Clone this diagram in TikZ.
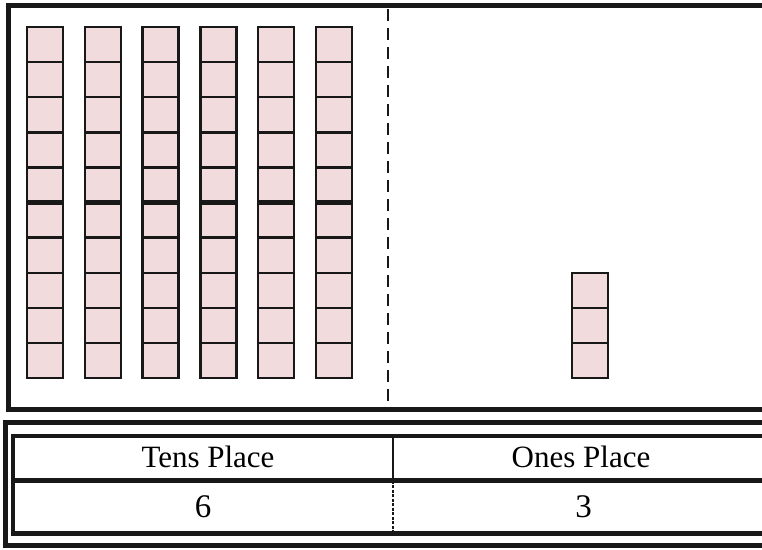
\documentclass[tikz,border=0pt]{standalone}
\usepackage{fontspec}
\setmainfont{Liberation Serif}
\usepackage{tikz}
\definecolor{blockpink}{RGB}{242,219,221}
\definecolor{ink}{RGB}{24,24,24}

\begin{document}
\begin{tikzpicture}[
  x=1pt, y=-1pt, font=\fontsize{31}{36}\selectfont,
  cell/.style={draw=ink, line width=2.4pt, fill=blockpink},
  frame/.style={draw=ink, line width=5pt},
  lbl/.style={anchor=base, inner sep=0pt}
]
\useasboundingbox (0,0) rectangle (762,549);
\clip (0,0) rectangle (762,549);

% tens rods: six columns of ten
\foreach \i in {0,...,5} {
  \foreach \j in {0,...,9}
    \draw[cell] (27+57.8*\i, 27+35.1*\j) rectangle ++(36,35.1);
  \draw[ink, line width=5pt] (27+57.8*\i,202.5) -- ++(36,0);
}

% ones: three single blocks
\foreach \j in {0,1,2}
  \draw[cell] (572, 273+35*\j) rectangle ++(36,35);

% place value mat
\draw[frame, line width=5.5pt] (8.5,5.5) rectangle (800,409.5);
\draw[ink, line width=2pt, dash pattern=on 12pt off 7pt] (388,9) -- (388,407);

% chart below
\draw[frame] (5.5,422.5) rectangle (800,545.5);
\draw[frame, line width=4.5pt] (13,436) rectangle (800,533.5);
\draw[ink, line width=4.5pt] (13,480.5) -- (800,480.5);
\draw[ink, line width=1.5pt] (393,436) -- (393,480.5);
\draw[ink, line width=1.5pt, dash pattern=on 3pt off 1.5pt] (393,480.5) -- (393,533.5);

\node[lbl] (tens) at (208,467) {Tens Place};
\node[lbl] (ones) at (581,467) {Ones Place};
\node[lbl, font=\fontsize{33}{38}\selectfont] (six) at (203,517) {6};
\node[lbl, font=\fontsize{33}{38}\selectfont] (three) at (583.5,517) {3};
\end{tikzpicture}
\end{document}
